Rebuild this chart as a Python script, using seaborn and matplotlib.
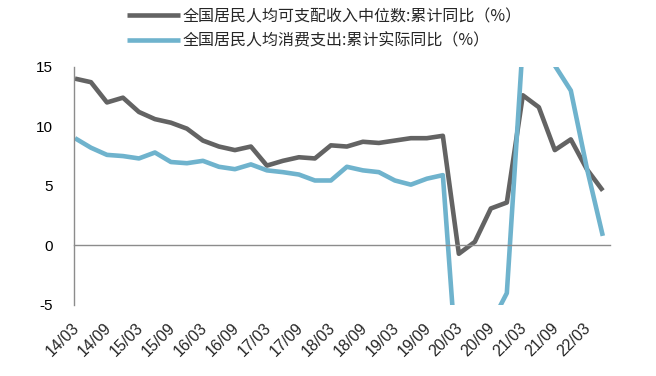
import numpy as np
import pandas as pd
import seaborn as sns
import matplotlib.pyplot as plt
from matplotlib.transforms import ScaledTranslation

# ---- data ----
quarters = [f"{y:02d}/{m:02d}" for y in range(14, 23) for m in (3, 6, 9, 12)][:34]
tick_labels = ["14/03", "14/09", "15/03", "15/09", "16/03", "16/09", "17/03", "17/09",
               "18/03", "18/09", "19/03", "19/09", "20/03", "20/09", "21/03", "21/09", "22/03"]
name_income = "全国居民人均可支配收入中位数:累计同比（%）"
name_consume = "全国居民人均消费支出:累计实际同比（%）"
income = [14.0, 13.7, 12.0, 12.4, 11.2, 10.6, 10.3, 9.8,
          8.8, 8.3, 8.0, 8.3, 6.7, 7.1, 7.4, 7.3,
          8.4, 8.3, 8.7, 8.6, 8.8, 9.0, 9.0, 9.2,
          -0.7, 0.3, 3.1, 3.6, 12.6, 11.6, 8.0, 8.9,
          6.4, 4.6]
consume = [9.0, 8.2, 7.6, 7.5, 7.3, 7.8, 7.0, 6.9,
           7.1, 6.6, 6.4, 6.8, 6.3, 6.15, 5.95, 5.45,
           5.45, 6.6, 6.3, 6.15, 5.45, 5.1, 5.6, 5.9,
           -12.5, -9.3, -6.6, -4.0, 17.0, 16.6, 15.1, 13.0,
           6.5, 0.8]

n = len(quarters)
df = pd.DataFrame({
    "idx": list(range(n)) * 2,
    "value": income + consume,
    "series": [name_income] * n + [name_consume] * n,
})

sns.set_style("white")
plt.rcParams["font.family"] = ["Liberation Sans", "Noto Sans CJK SC", "DejaVu Sans"]
plt.rcParams["axes.unicode_minus"] = False

gray = "#636363"
blue = "#6fb3cd"
axis_c = "#8c8c8c"

fig = plt.figure(figsize=(6.56, 3.76), dpi=100)
ax = fig.add_axes([74 / 656, 1 - 305 / 376, (610 - 74) / 656, (305 - 66.7) / 376])

sns.lineplot(data=df, x="idx", y="value", hue="series", palette=[gray, blue],
             linewidth=3.3, ax=ax, legend=False, sort=False)
for ln in ax.get_lines():
    ln.set_solid_joinstyle("round")
    ln.set_solid_capstyle("butt")

ax.set_xlim(-0.06, 33.45)
ax.set_ylim(-5, 15)
ax.set_yticks([-5, 0, 5, 10, 15])
ax.set_xlabel("")
ax.set_ylabel("")

for s in ("top", "right"):
    ax.spines[s].set_visible(False)
ax.spines["left"].set_color(axis_c)
ax.spines["left"].set_linewidth(1)
ax.spines["bottom"].set_position(("data", 0))
ax.spines["bottom"].set_color(axis_c)
ax.spines["bottom"].set_linewidth(1)

ax.set_xticks(range(0, 33, 2))
ax.tick_params(axis="x", direction="out", length=4, width=1, color=axis_c, labelbottom=False)
ax.tick_params(axis="y", direction="out", length=4, width=1, color=axis_c,
               labelcolor="black", labelsize=11, pad=11.5)

sec = ax.secondary_xaxis(0)
sec.set_xticks(range(0, 33, 2), labels=tick_labels)
sec.spines["bottom"].set_visible(False)
sec.tick_params(length=0, pad=11, labelsize=11.5, labelrotation=45)
offset = ScaledTranslation(7 / 100, 0, fig.dpi_scale_trans)
for lab in sec.get_xticklabels():
    lab.set_ha("right")
    lab.set_transform(lab.get_transform() + offset)

handles = ax.get_lines()[:2]
fig.legend(handles, [name_income, name_consume], loc="upper left",
           bbox_to_anchor=(127 / 656, 1 - 8 / 376), frameon=False,
           prop={"family": ["Noto Sans CJK SC", "DejaVu Sans"], "size": 11.5},
           handlelength=3.3, handletextpad=0.2, labelspacing=0.45,
           borderaxespad=0, borderpad=0)

fig.savefig("out.png", dpi=100)
